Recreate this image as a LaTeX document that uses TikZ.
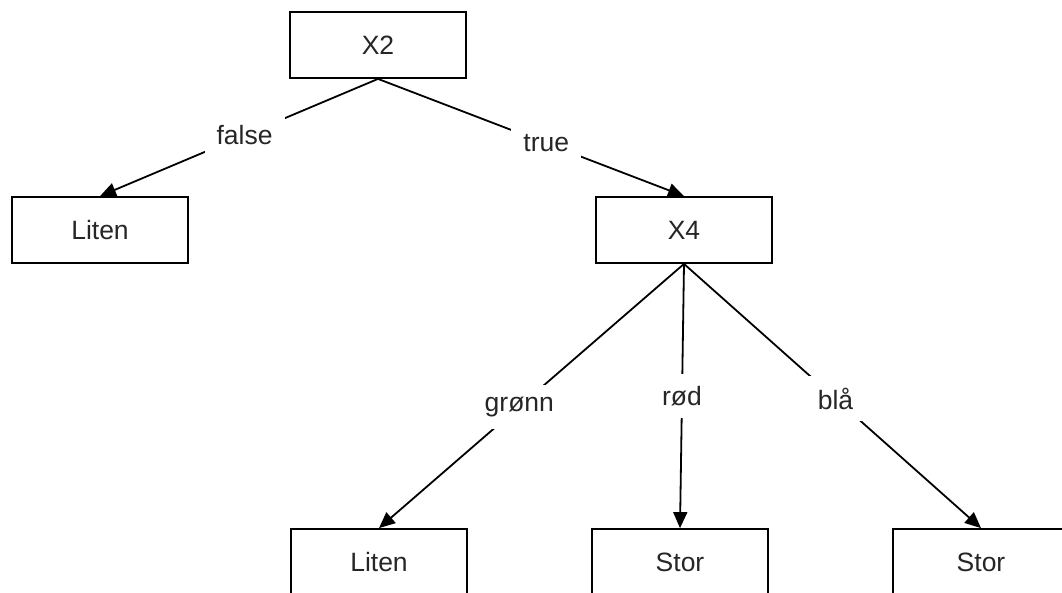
\documentclass[tikz,border=0pt]{standalone}
\usepackage{fontspec}
\setmainfont{Liberation Sans}
\usetikzlibrary{arrows.meta}
\begin{document}
\begin{tikzpicture}[x=1pt,y=-1pt,
  box/.style={draw=black,line width=1.8pt,minimum width=176pt,minimum height=66pt,inner sep=0pt,font=\fontsize{26.5}{30}\selectfont,text=black!85},
  lbl/.style={fill=white,inner sep=12pt,font=\fontsize{26.5}{30}\selectfont,text=black!85},
  edge/.style={line width=1.8pt,-{Triangle[length=16pt,width=14pt]}}]
\useasboundingbox (0,0) rectangle (1062,592);
\fill[white] (0,0) rectangle (1062,592);
\node[box] (X2) at (378,45) {X2};
\node[box] (L1) at (100,230) {Liten};
\node[box] (X4) at (684,230) {X4};
\node[box] (L2) at (379,562) {Liten};
\node[box] (S1) at (680,562) {Stor};
\node[box] (S2) at (981,562) {Stor};
\draw[edge] (X2.south) -- node[lbl,pos=0.48] {false} (L1.north);
\draw[edge] (X2.south) -- node[lbl,pos=0.55] {true} (X4.north);
\draw[edge] (X4.south) -- node[lbl,pos=0.54] {grønn} (L2.north);
\draw[edge] (X4.south) -- node[lbl,pos=0.50] {rød} (S1.north);
\draw[edge] (X4.south) -- node[lbl,pos=0.51] {blå} (S2.north);
\end{tikzpicture}
\end{document}
